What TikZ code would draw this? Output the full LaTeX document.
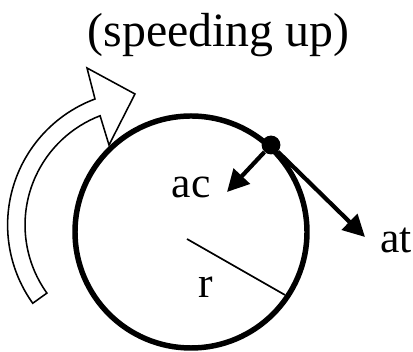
\documentclass[tikz,border=0pt]{standalone}
\usepackage{fontspec}
\setmainfont{Liberation Serif}
\usetikzlibrary{arrows.meta}

\tikzset{
  vec/.style={line width=3pt, -{Triangle[length=15.5pt, width=15.5pt]}},
  lbl/.style={inner sep=0pt, anchor=base, font=\fontsize{31}{31}\selectfont}
}

\begin{document}
\begin{tikzpicture}[x=0.025cm, y=0.025cm]
  \useasboundingbox (0,0) rectangle (413,352);

  % hollow arrow showing the sense of rotation
  \draw[line width=1.1pt, fill=white]
    (46.9,58.9) arc[start angle=215.6, end angle=111, radius=117]
    -- (109,207) -- (135,258) -- (87,284) -- (95,253)
    arc[start angle=110.5, end angle=215.6, radius=134.5] -- cycle;

  % the circle of motion
  \coordinate (O) at (191,120);
  \draw[line width=3.9pt] (O) circle[radius=116];

  % radius
  \coordinate (ctr) at (187,113);
  \coordinate (rim) at (285,57);
  \draw[line width=1.2pt] (ctr) -- (rim);

  % particle and its accelerations
  \node[circle, fill, inner sep=0pt, minimum size=0.47cm] (P) at (271,207) {};
  \coordinate (actip) at (227,160);
  \coordinate (attip) at (365,115);
  \draw[vec] (P) -- (actip);
  \draw[vec] (P) -- (attip);

  % labels
  \node[lbl, font=\fontsize{34}{34}\selectfont] (title) at (218.5,305) {(speeding up)};
  \node[lbl] (ac) at (191,154) {ac};
  \node[lbl] (at) at (396,99) {at};
  \node[lbl] (r) at (206,54) {r};
\end{tikzpicture}
\end{document}
